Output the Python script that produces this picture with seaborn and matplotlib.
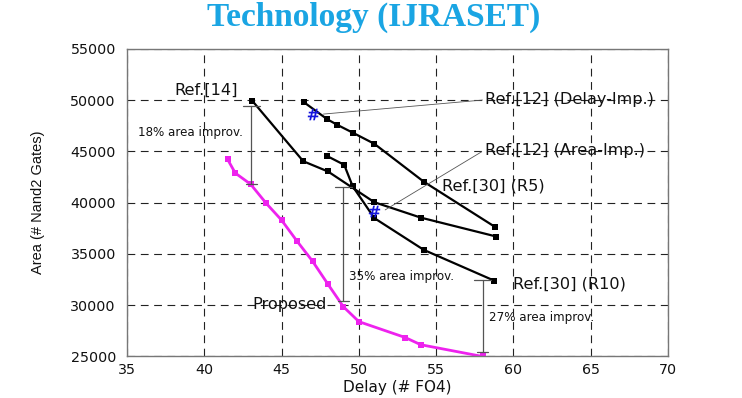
import matplotlib
matplotlib.use("Agg")
import matplotlib.pyplot as plt
import seaborn as sns
import pandas as pd

# ---------------- data ----------------
prop_x = [41.5, 42.0, 43.0, 44.0, 45.0, 46.0, 47.0, 48.0, 49.0, 50.0, 53.0, 54.0, 58.0]
prop_y = [44250, 42900, 41800, 39950, 38300, 36250, 34300, 32050, 29850, 28400, 26850, 26150, 25000]

ref14_x = [43.1, 46.4, 48.0, 51.0, 54.0, 58.9]
ref14_y = [49950, 44050, 43050, 40050, 38550, 36700]

r5_x = [46.45, 47.95, 48.6, 49.65, 51.0, 54.2, 58.8]
r5_y = [49800, 48150, 47600, 46800, 45750, 42050, 37650]

r10_x = [47.95, 49.05, 49.6, 51.0, 54.2, 58.75]
r10_y = [44550, 43700, 41600, 38500, 35400, 32400]

ref12_x = [47.0, 51.0]
ref12_y = [48650, 39150]

title_text = "Technology (IJRASET)"
x_label = "Delay (# FO4)"
y_label = "Area (# Nand2 Gates)"
x_ticks = [35, 40, 45, 50, 55, 60, 65, 70]
y_ticks = [25000, 30000, 35000, 40000, 45000, 50000, 55000]

# ---------------- figure ----------------
sns.set_theme(style="white")
plt.rcParams["font.family"] = ["DejaVu Sans"]

fig = plt.figure(figsize=(7.42, 3.98), dpi=100)
ax = fig.add_axes([0.1712, 0.1043, 0.7291, 0.7726])

black_kw = dict(color="black", linewidth=1.6, marker="s", markersize=4,
                markeredgewidth=0, markerfacecolor="black")

sns.lineplot(x=ref14_x, y=ref14_y, ax=ax, sort=False, **black_kw)
sns.lineplot(x=r5_x, y=r5_y, ax=ax, sort=False, **black_kw)
sns.lineplot(x=r10_x, y=r10_y, ax=ax, sort=False, **black_kw)
sns.lineplot(x=prop_x, y=prop_y, ax=ax, sort=False, color="#EE22EE",
             linewidth=2.0, marker="s", markersize=4.5, markeredgewidth=0,
             markerfacecolor="#EE22EE")
sns.scatterplot(x=ref12_x, y=ref12_y, ax=ax, marker=r"$\mathbf{\#}$", s=70,
                color="#1515DD", linewidth=0, zorder=6)

ax.set_xlim(35, 70)
ax.set_ylim(25000, 55000)
ax.set_xticks(x_ticks)
ax.set_yticks(y_ticks)
ax.set_xticklabels([str(v) for v in x_ticks])
ax.set_yticklabels([str(v) for v in y_ticks])
ax.tick_params(axis="both", labelsize=10.3, direction="in", length=4,
               width=0.8, color="#555555", labelcolor="#111111")
ax.tick_params(axis="y", pad=8)
ax.tick_params(axis="x", pad=5)

ax.grid(True, color="#222222", linestyle=(0, (7, 5)), linewidth=0.8)
ax.set_axisbelow(True)
for sp in ax.spines.values():
    sp.set_color("#777777")
    sp.set_linewidth(1.0)

ax.set_xlabel(x_label, fontsize=11, color="#111111")
ax.xaxis.set_label_coords(0.5, -0.078)
ax.set_ylabel(y_label, fontsize=10.5, color="#111111",
              family=["Liberation Sans"])
ax.yaxis.set_label_coords(-0.152, 0.5)

# ---------------- annotations ----------------
gray = "#555555"
def dim_line(x, y0, y1, w=0.55):
    ax.plot([x, x], [y0, y1], color=gray, linewidth=0.9, zorder=2)
    ax.plot([x - w, x + w], [y0, y0], color=gray, linewidth=0.9, zorder=2)
    ax.plot([x - w * 0.6, x + w * 0.6], [y1, y1], color=gray, linewidth=0.9, zorder=2)

dim_line(43.05, 49450, 41850)
dim_line(49.0, 41500, 30450)
dim_line(58.0, 32450, 25400)

ann_kw = dict(fontsize=8.6, va="center", ha="left", color="#111111")
ax.text(35.7, 46900, "18% area improv.", **ann_kw)
ax.text(49.35, 32850, "35% area improv.", **ann_kw)
ax.text(58.4, 28820, "27% area improv.", **ann_kw)

lab_kw = dict(fontsize=11.6, va="center", ha="left", color="#111111")
ax.text(38.05, 51000, "Ref.[14]", **lab_kw)
ax.text(58.15, 50100, "Ref.[12] (Delay-Imp.)", **lab_kw)
ax.text(58.15, 45050, "Ref.[12] (Area-Imp.)", **lab_kw)
ax.text(55.35, 41650, "Ref.[30] (R5)", **lab_kw)
ax.text(60.0, 32100, "Ref.[30] (R10)", **lab_kw)
ax.text(43.1, 30050, "Proposed", **lab_kw)

ax.plot([47.7, 58.0], [48650, 50020], color=gray, linewidth=0.6, zorder=3)
ax.plot([51.7, 57.95], [39300, 44980], color=gray, linewidth=0.6, zorder=3)

fig.text(0.503, 0.995, title_text, ha="center", va="top", fontsize=24,
         fontweight="bold", color="#1AA5E3", family=["Liberation Serif"])

fig.savefig("out.png", dpi=100)
